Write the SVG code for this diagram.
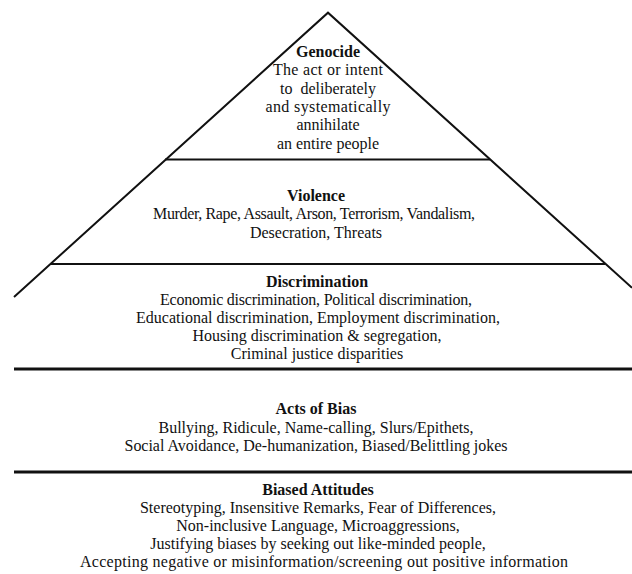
<svg xmlns="http://www.w3.org/2000/svg" width="632" height="574" viewBox="0 0 632 574">
<style>
.t{font-family:"Liberation Serif","DejaVu Serif",serif;font-size:16px;fill:#111;text-anchor:middle}
.h{font-weight:bold}
.ln{stroke:#111;fill:none;stroke-linecap:butt}
</style>
<rect width="632" height="574" fill="#fff"/>
<g id="connectors">
<polyline class="ln" stroke-width="2" points="14,297 328,12.7 632,287.8"/>
<line class="ln" stroke-width="2" x1="165" y1="159.5" x2="490" y2="159.5"/>
<line class="ln" stroke-width="2" x1="50.7" y1="264" x2="605" y2="264"/>
<line class="ln" stroke-width="3" x1="14" y1="369" x2="632" y2="369"/>
<line class="ln" stroke-width="3" x1="14" y1="472" x2="632" y2="472"/>
</g>
<g id="genocide">
<text class="t h" x="328" y="57">Genocide</text>
<text class="t" x="328" y="75" textLength="110">The act or intent</text>
<text class="t" x="328" y="94" style="white-space:pre">to  deliberately</text>
<text class="t" x="328" y="112" textLength="125">and systematically</text>
<text class="t" x="328" y="130">annihilate</text>
<text class="t" x="328" y="149">an entire people</text>
</g>
<g id="violence">
<text class="t h" x="316" y="201">Violence</text>
<text class="t" x="314" y="219" textLength="322">Murder, Rape, Assault, Arson, Terrorism, Vandalism,</text>
<text class="t" x="316" y="238">Desecration, Threats</text>
</g>
<g id="discrimination">
<text class="t h" x="317" y="287">Discrimination</text>
<text class="t" x="316" y="305" textLength="312">Economic discrimination, Political discrimination,</text>
<text class="t" x="318" y="323" textLength="364">Educational discrimination, Employment discrimination,</text>
<text class="t" x="317" y="341">Housing discrimination &amp; segregation,</text>
<text class="t" x="317" y="359">Criminal justice disparities</text>
</g>
<g id="acts-of-bias">
<text class="t h" x="316" y="414">Acts of Bias</text>
<text class="t" x="316" y="433">Bullying, Ridicule, Name-calling, Slurs/Epithets,</text>
<text class="t" x="316" y="451" textLength="383">Social Avoidance, De-humanization, Biased/Belittling jokes</text>
</g>
<g id="biased-attitudes">
<text class="t h" x="318" y="495">Biased Attitudes</text>
<text class="t" x="318" y="513">Stereotyping, Insensitive Remarks, Fear of Differences,</text>
<text class="t" x="318" y="531">Non-inclusive Language, Microaggressions,</text>
<text class="t" x="318" y="549">Justifying biases by seeking out like-minded people,</text>
<text class="t" x="324" y="567" textLength="488">Accepting negative or misinformation/screening out positive information</text>
</g>
</svg>
